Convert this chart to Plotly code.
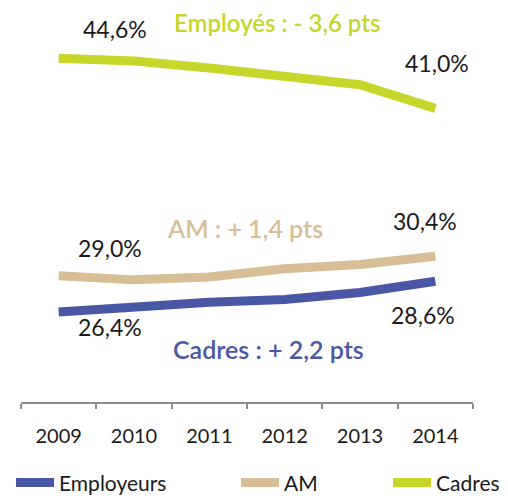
import plotly.graph_objects as go

# ── data ──────────────────────────────────────────────────────────────────────
years = ["2009", "2010", "2011", "2012", "2013", "2014"]
employeurs = [26.4, 26.8, 27.1, 27.3, 27.8, 28.6]
am = [29.0, 28.7, 28.9, 29.5, 29.8, 30.4]
cadres = [44.6, 44.4, 43.9, 43.3, 42.7, 41.0]

BLUE = "#4A57A5"
TAN = "#D7BE96"
GREEN = "#C6D62B"
FONT = "Lato"

fig = go.Figure()
for name, vals, col, leg in [
    ("Employeurs", employeurs, BLUE, "legend"),
    ("AM", am, TAN, "legend2"),
    ("Cadres", cadres, GREEN, "legend3"),
]:
    fig.add_trace(go.Scatter(
        x=years, y=vals, mode="lines", name=name, legend=leg,
        line=dict(color=col, width=9),
    ))


def fmt(v):
    return f"{v:.1f}%".replace(".", ",")


def delta(v):
    d = v[-1] - v[0]
    sign = "+" if d >= 0 else "-"
    return f"{sign} {abs(d):.1f}".replace(".", ",")


# value labels at the first and last year (x given as category index)
last = len(years) - 1
labels = [
    (cadres, 0, 56, 29), (cadres, last, 2, 45),
    (am, 0, 51, 28), (am, last, -10, 35),
    (employeurs, 0, 51, -15), (employeurs, last, -12, -34),
]
for vals, i, dx, dy in labels:
    fig.add_annotation(
        x=i, y=vals[i], text=fmt(vals[i]), showarrow=False,
        xshift=dx, yshift=dy,
        font=dict(size=23, color="#1a1a1a", family=FONT),
    )

# series change captions
captions = [
    (f"Employés : {delta(cadres)} pts", GREEN, 2.9, cadres[0], 36, 24),
    (f"AM : {delta(am)} pts", TAN, 2.47, am[0], 48, 25),
    (f"Cadres : {delta(employeurs)} pts", BLUE, 2.78, employeurs[0], -37, 25),
]
for text, col, xi, yv, dy, size in captions:
    fig.add_annotation(
        x=xi, y=yv, text=text, showarrow=False, yshift=dy,
        font=dict(size=size, color=col, family=FONT, weight=600),
    )

# the page body keeps its default 8px margin, so the figure is 8px smaller
legend_common = dict(
    orientation="h", yanchor="middle", xanchor="left",
    xref="container", yref="container", y=0.031, itemwidth=38,
    font=dict(size=21, color="#1a1a1a", family=FONT),
    bgcolor="rgba(0,0,0,0)",
)
fig.update_layout(
    width=500, height=490,
    margin=dict(l=13, r=35, t=0, b=96, autoexpand=False),
    paper_bgcolor="white", plot_bgcolor="white",
    showlegend=True,
    legend=dict(x=0.006, **legend_common),
    legend2=dict(x=0.456, **legend_common),
    legend3=dict(x=0.76, **legend_common),
    xaxis=dict(
        type="category", range=[-0.5, 5.5], automargin=False,
        showline=True, linecolor="#8c8c8c", linewidth=1.5,
        ticks="outside", tickson="boundaries", ticklen=5, tickcolor="#8c8c8c",
        tickwidth=1.5, showgrid=False, tickangle=0, ticklabelstandoff=15,
        tickfont=dict(size=20, color="#1a1a1a", family=FONT),
    ),
    yaxis=dict(range=[19.94, 48.2], visible=False, showgrid=False),
)

fig.write_html("out.html")
